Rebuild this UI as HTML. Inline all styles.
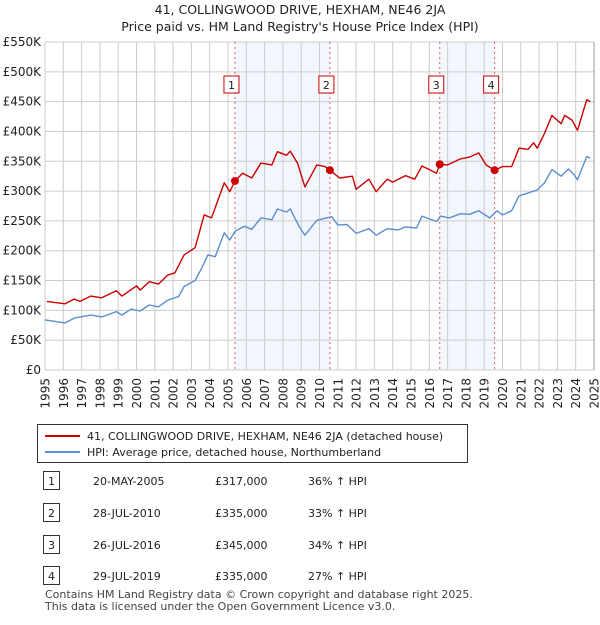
<!DOCTYPE html>
<html><head><meta charset="utf-8"><style>
body{margin:0;background:#fff;font-family:"Liberation Sans","DejaVu Sans",sans-serif;}
svg text{font-family:"DejaVu Sans","Liberation Sans",sans-serif;}
</style></head><body>
<svg id="c" width="600" height="620" xmlns="http://www.w3.org/2000/svg"></svg>
<script>
const hpiYears=[1995.0,1996.1,1996.6,1997.5,1998.1,1998.9,1999.2,1999.7,2000.2,2000.7,2001.2,2001.7,2002.3,2002.6,2003.2,2003.6,2003.9,2004.3,2004.8,2005.1,2005.4,2005.9,2006.3,2006.8,2007.4,2007.7,2008.2,2008.4,2008.9,2009.2,2009.85,2010.67,2011.0,2011.5,2012.0,2012.7,2013.1,2013.7,2014.3,2014.7,2015.3,2015.6,2016.4,2016.6,2017.1,2017.7,2018.2,2018.7,2019.3,2019.7,2020.0,2020.5,2020.9,2021.4,2021.9,2022.3,2022.7,2023.2,2023.6,2023.9,2024.1,2024.6,2024.8];
const hpiValues=[84,79,87,92,89,98,92,102,99,109,106,117,123,140,150,173,193,190,230,218,233,241,236,255,252,270,265,270,240,226,251,257,243,244,229,237,226,237,235,240,238,258,249,258,255,262,261,267,255,267,260,267,292,297,302,314,336,325,337,328,319,358,355];
const priceYears=[1995.1,1996.1,1996.6,1996.9,1997.5,1998.1,1998.9,1999.2,2000.0,2000.2,2000.7,2001.2,2001.7,2002.1,2002.6,2003.2,2003.7,2004.1,2004.8,2005.1,2005.38,2005.8,2006.3,2006.8,2007.4,2007.7,2008.2,2008.4,2008.8,2009.2,2009.85,2010.3,2010.57,2011.1,2011.8,2012.0,2012.7,2013.1,2013.7,2014.0,2014.7,2015.2,2015.6,2016.4,2016.57,2017.0,2017.7,2018.2,2018.7,2019.1,2019.57,2020.0,2020.5,2020.9,2021.4,2021.7,2021.9,2022.3,2022.7,2023.2,2023.4,2023.8,2024.1,2024.6,2024.8];
const priceValues=[115,111,119,115,124,121,133,124,141,134,148,144,159,163,193,205,260,255,314,299,317,330,322,347,344,366,360,367,347,307,344,341,335,322,325,303,320,299,320,315,326,320,342,330,345,344,354,357,364,344,335,341,341,372,370,381,372,397,427,413,427,419,402,453,450];
const saleYears=[2005.38,2010.57,2016.57,2019.57];
const saleValues=[317,335,345,335];
const saleLabels=["1","2","3","4"];
const saleDates=["20-MAY-2005","28-JUL-2010","26-JUL-2016","29-JUL-2019"];
const salePrices=["£317,000","£335,000","£345,000","£335,000"];
const saleHpi=["36% ↑ HPI","33% ↑ HPI","34% ↑ HPI","27% ↑ HPI"];
const yTicks=[0,50,100,150,200,250,300,350,400,450,500,550];
const xTicks=[1995,1996,1997,1998,1999,2000,2001,2002,2003,2004,2005,2006,2007,2008,2009,2010,2011,2012,2013,2014,2015,2016,2017,2018,2019,2020,2021,2022,2023,2024,2025];

const L=45,R=594,T=42,B=370;
const X=t=>L+(t-1995)/30*(R-L);
const Y=v=>B-v/550*(B-T);
const svg=document.getElementById('c');
const NS='http://www.w3.org/2000/svg';
function mk(tag,at,txt,parent){const e=document.createElementNS(NS,tag);for(const k in at)e.setAttribute(k,at[k]);if(txt!==undefined&&txt!==null)e.textContent=txt;(parent||svg).appendChild(e);return e;}

let b=mk('rect',{x:X(saleYears[0]),y:T,width:X(saleYears[1])-X(saleYears[0]),height:B-T,fill:'#eef3fc',opacity:0.75});


b=mk('rect',{x:X(saleYears[2]),y:T,width:X(saleYears[3])-X(saleYears[2]),height:B-T,fill:'#eef3fc',opacity:0.75});



yTicks.forEach(v=>{
 let g=mk('line',{x1:L,x2:R,y1:Y(v),y2:Y(v),stroke:'#cccccc','stroke-width':1});
 
 
 let t=mk('text',{x:L-4,y:Y(v)+4,'text-anchor':'end','font-size':12,fill:'#222'},v===0?'£0':'£'+v+'K');
 
 
});
xTicks.forEach(yr=>{
 let g=mk('line',{x1:X(yr),x2:X(yr),y1:T,y2:B,stroke:'#cccccc','stroke-width':1});
 
 
 const tx=X(yr)+4.5, ty=378;
 let grp=mk('g',{transform:'translate('+tx.toFixed(1)+','+ty+') rotate(-90)'});
 let t=mk('text',{x:0,y:0,'text-anchor':'end','font-size':12,fill:'#222'},String(yr),grp);
 
 
});
let ax=mk('line',{x1:R,x2:R,y1:T,y2:B,stroke:'#999','stroke-width':1});



saleYears.forEach((yr,i)=>{
 let d=mk('line',{x1:X(yr),x2:X(yr),y1:T,y2:B,stroke:'#e06060','stroke-width':1,'stroke-dasharray':'2,3'});
 
 
 let r=mk('rect',{x:X(yr)-11,y:76,width:15,height:17,fill:'#fff',stroke:'#cc0000','stroke-width':1});
 
 
 let t=mk('text',{x:X(yr)-3.5,y:89,'text-anchor':'middle','font-size':11,fill:'#222'},saleLabels[i]);
 
 
});

function line(xs,vs,col,name){
 const p=mk('polyline',{points:xs.map((t,i)=>X(t).toFixed(1)+','+Y(vs[i]).toFixed(1)).join(' '),fill:'none',stroke:col,'stroke-width':1.4,'stroke-linejoin':'round'});
 
 
}
line(hpiYears,hpiValues,'#5b8fd0','hpi-line');
line(priceYears,priceValues,'#cc0000','price-paid-line');
saleYears.forEach((yr,i)=>{
 let c=mk('circle',{cx:X(yr),cy:Y(saleValues[i]),r:4,fill:'#cc0000'});
 
 
});

let t1=mk('text',{x:300,y:14,'text-anchor':'middle','font-size':12.5,fill:'#222'},'41, COLLINGWOOD DRIVE, HEXHAM, NE46 2JA');


let t2=mk('text',{x:300,y:31,'text-anchor':'middle','font-size':12.5,fill:'#222'},"Price paid vs. HM Land Registry's House Price Index (HPI)");



let lg=mk('rect',{x:37.5,y:424.5,width:430,height:38,fill:'#fff',stroke:'#333','stroke-width':1});


let l1=mk('line',{x1:45,x2:80,y1:436,y2:436,stroke:'#cc0000','stroke-width':2});


let lt1=mk('text',{x:87,y:440,'font-size':11,fill:'#222'},'41, COLLINGWOOD DRIVE, HEXHAM, NE46 2JA (detached house)');


let l2=mk('line',{x1:45,x2:80,y1:452,y2:452,stroke:'#5b8fd0','stroke-width':2});


let lt2=mk('text',{x:87,y:456,'font-size':11,fill:'#222'},'HPI: Average price, detached house, Northumberland');



const rowY=[481,513,545,576];
saleLabels.forEach((s,i)=>{
 let y=rowY[i];
 let r=mk('rect',{x:43.5,y:y-9.5,width:16,height:18,fill:'#fff',stroke:'#333','stroke-width':1});
 
 
 let a=mk('text',{x:51.5,y:y+4,'text-anchor':'middle','font-size':11,fill:'#222'},s);
 
 
 let d=mk('text',{x:93,y:y+4,'font-size':11,fill:'#222'},saleDates[i]);
 
 
 let p=mk('text',{x:215,y:y+4,'font-size':11,fill:'#222'},salePrices[i]);
 
 
 let h=mk('text',{x:308,y:y+4,'font-size':11,fill:'#222'},saleHpi[i]);
 
 
});
let f1=mk('text',{x:45,y:598,'font-size':11,fill:'#444'},'Contains HM Land Registry data © Crown copyright and database right 2025.');


let f2=mk('text',{x:45,y:610,'font-size':11,fill:'#444'},'This data is licensed under the Open Government Licence v3.0.');


</script>
</body></html>
